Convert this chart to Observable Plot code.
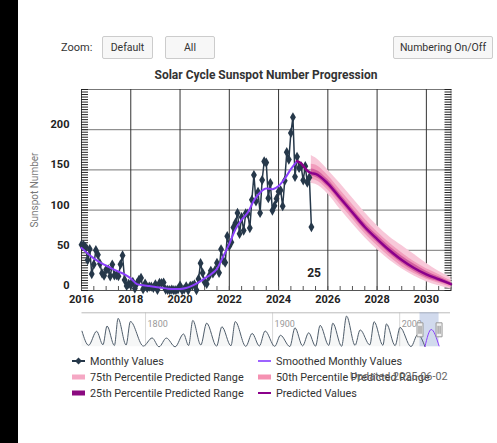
<!DOCTYPE html>
<html><head><meta charset="utf-8">
<script src="https://cdn.jsdelivr.net/npm/d3@7"></script>
<script src="https://cdn.jsdelivr.net/npm/@observablehq/plot@0.6"></script>
<style>
html,body{margin:0;padding:0;background:#000;width:497px;height:443px;overflow:hidden;font-family:Roboto,sans-serif;}
#panel{position:absolute;left:18px;top:0;width:479px;height:443px;background:#fff;}
.abs{position:absolute;}
.btn{position:absolute;box-sizing:border-box;height:23px;border:1px solid #cccccc;background:#f7f7f7;border-radius:2px;font-size:10.5px;color:#333;display:flex;align-items:center;justify-content:center;}
.lg{position:absolute;font-size:10.8px;color:#333;display:flex;align-items:center;height:14px;white-space:nowrap;}
.lg svg{margin-right:4px;}
</style></head><body>
<div id="panel"></div>
<div class="abs" style="left:61px;top:41px;font-size:11px;color:#333;">Zoom:</div>
<div class="btn" style="left:102px;top:36px;width:51px;">Default</div>
<div class="btn" style="left:165px;top:36px;width:50px;">All</div>
<div class="btn" style="left:393px;top:36px;width:100px;">Numbering On/Off</div>
<div class="abs" style="left:0;top:68px;width:532px;text-align:center;font-size:12px;font-weight:bold;color:#333;">Solar Cycle Sunspot Number Progression</div>
<div id="main" class="abs" style="left:0;top:80px;"></div>
<div id="nav" class="abs" style="left:0;top:305px;"></div>
<div id="legend"></div>
<div class="abs" style="left:350px;top:370px;font-size:10.8px;color:#666;">Updated 2025-06-02</div>
<script>
// ---------- data ----------
const monthlyStartYear = 2016;
const monthlyValues = [
 57.0,56.4,54.1,37.9,51.5,20.5,32.4,50.2,44.6,33.4,21.4,18.5,
 26.1,26.4,17.7,32.3,18.9,19.2,17.8,32.6,43.6,13.2,5.7,8.2,
 6.8,10.7,2.5,8.9,13.1,15.6,1.6,8.7,3.3,4.9,4.9,3.1,
 7.7,0.8,9.4,9.1,9.9,1.2,0.9,0.5,1.1,0.4,0.5,1.5,
 6.2,0.2,1.5,5.2,0.2,5.8,6.1,7.5,0.6,14.4,34.0,21.8,
 10.4,8.2,17.2,24.5,21.2,25.0,34.3,22.0,51.3,37.4,34.8,67.5,
 55.3,59.9,78.5,84.1,96.5,70.5,91.4,74.6,96.0,95.5,77.6,112.8,
 143.6,110.9,122.6,96.4,137.4,160.5,159.1,114.8,133.6,99.4,105.4,114.2,
 123.0,124.7,104.9,136.5,172.0,162.8,196.0,215.5,141.4,166.3,152.5,154.5,
 137.0,154.6,134.2,140.6,78.9
];
const smoothTimes = [2016,2016.25,2016.5,2016.75,2017,2017.25,2017.5,2017.75,2018,2018.25,2018.5,2018.75,2019,2019.25,2019.5,2019.75,2020,2020.25,2020.5,2020.75,2021,2021.25,2021.5,2021.75,2022,2022.25,2022.5,2022.75,2023,2023.25,2023.5,2023.75,2024,2024.25,2024.5,2024.75];
const smoothValues = [53,46,40,35,31,27,23.5,20,15,8,6.5,5.5,4.3,3.3,2.3,1.8,1.9,3,6,10,15,20,27,42,58,76,88,97,112,122,127,126,130,139,151,161];
const predTimes = [2024.75,2024.92,2025,2025.17,2025.33,2025.5,2026,2026.5,2027,2027.5,2028,2028.5,2029,2029.5,2030,2030.5,2031];
const predValues = [161,158,155,149,146,145,133,115,97,79,64,50,38,28,20,14,8];
const bandTimes = [2025.33,2025.5,2026,2026.5,2027,2027.5,2028,2028.5,2029,2029.5,2030,2030.5,2031];
const band75Low  = [133,132,120,101,83,66,51,38,27,18,11,6,2];
const band75High = [168,165,150,133,115,97,81,67,56,45,34,24,16];
const band50Low  = [138,137,125,107,89,71,56,42,30,21,14,9,4];
const band50High = [157,156,143,125,107,89,73,59,47,36,27,20,12];
const band25Low  = [142,141,129,111,93,75,60,46,34,24,16,11,6];
const band25High = [151,150,138,120,102,84,69,55,43,33,24,17,10];
const cycleLabels = [{t: 2025.44, v: 21, label: "25"}];
const xLabelYears = [2016,2018,2020,2022,2024,2026,2028,2030];
const yTickValues = [0,50,100,150,200];
// navigator: smoothed cycle extrema
const navTimes = [1750,1755.2,1761.5,1766.5,1769.7,1775.5,1778.4,1784.7,1788.1,1798.3,1805.2,1810.6,1816.4,1823.3,1829.9,1833.9,1837.2,1843.5,1848.1,1855.9,1860.1,1867.2,1870.6,1878.9,1883.9,1889.6,1894.1,1901.7,1906.2,1913.6,1917.6,1923.6,1928.4,1933.8,1937.4,1944.2,1947.4,1954.3,1958.2,1964.9,1968.9,1976.5,1979.9,1986.8,1989.6,1996.4,2000.3,2008.9,2014.3,2019.9];
const navValues = [145,14,144,19,193,12,264,17,235,7,82,0,81,0.2,119,12,245,17,220,6,186,10,234,4,124,8,147,4.5,107,2.5,176,9,130,6,199,13,219,5,285,14,157,18,233,14,213,11,180,2,116,2];
const navRecentTimes = [2019.9,2024.8,2031];
const navRecentValues = [2,161,8];
const navCenturies = [1800,1900,2000];
const navRange = [2016,2031];

// ---------- derived rows ----------
const monthly = monthlyValues.map((v,i)=>({t: monthlyStartYear + i/12, v}));
const smooth = smoothTimes.map((t,i)=>({t, v: smoothValues[i]}));
const pred = predTimes.map((t,i)=>({t, v: predValues[i]}));
const bands = bandTimes.map((t,i)=>({t, lo75: band75Low[i], hi75: band75High[i], lo50: band50Low[i], hi50: band50High[i], lo25: band25Low[i], hi25: band25High[i]}));
const nav = navTimes.map((t,i)=>({t, v: navValues[i]}));
const navRecent = navRecentTimes.map((t,i)=>({t, v: navRecentValues[i]}));
const minorY = d3.range(0, 250.1, 3.125);
const minorX = d3.range(2016, 2031.01, 0.5);

const C_MONTH = "#26384a", C_SMOOTH = "#8b3ffb", C_PRED = "#8b008b";

const main = Plot.plot({
  width: 497, height: 230,
  marginLeft: 81, marginRight: 46.5, marginTop: 9, marginBottom: 20,
  style: {fontFamily: "Roboto, sans-serif", fontSize: "11px", background: "transparent", overflow: "visible", color: "#222"},
  x: {domain: [2016, 2031]},
  y: {domain: [0, 250]},
  marks: [
    Plot.gridY([50,100,150,200,250], {stroke: "#777", strokeOpacity: 1}),
    Plot.gridX(xLabelYears.slice(1), {stroke: "#333", strokeOpacity: 1}),
    Plot.ruleX([2016], {stroke: "#444"}),
    Plot.ruleX([2031], {stroke: "#999"}),
    Plot.ruleY([0], {stroke: "#555"}),
    Plot.axisY(minorY, {anchor: "left", tickSize: -7, fill: "none", label: null, stroke: "#222"}),
    Plot.axisY(minorY, {anchor: "right", tickSize: -7, fill: "none", label: null, stroke: "#222"}),
    Plot.axisX(minorX, {anchor: "bottom", tickSize: -4, fill: "none", label: null, stroke: "#555"}),
    Plot.axisX(xLabelYears, {anchor: "bottom", tickSize: 0, tickPadding: 5, fontWeight: "bold", fontSize: 11, label: null, tickFormat: d => String(d), fill: "#222"}),
    Plot.axisY(yTickValues, {anchor: "left", tickSize: 0, tickPadding: 12, dy: -5, fontWeight: "bold", fontSize: 11, label: null, fill: "#222"}),
    Plot.axisY({ticks: [], anchor: "left", tickSize: 0, label: "Sunspot Number", labelAnchor: "center", labelOffset: 51, labelArrow: "none", fill: "#777", fontSize: 10}),
    Plot.areaY(bands, {x: "t", y1: "lo75", y2: "hi75", fill: "#f8c8d9", curve: "monotone-x"}),
    Plot.areaY(bands, {x: "t", y1: "lo50", y2: "hi50", fill: "#f19cbc", curve: "monotone-x"}),
    Plot.areaY(bands, {x: "t", y1: "lo25", y2: "hi25", fill: "#d4619f", curve: "monotone-x"}),
    Plot.line(monthly, {x: "t", y: "v", stroke: C_MONTH, strokeWidth: 1.5}),
    Plot.dot(monthly, {x: "t", y: "v", symbol: "diamond", r: 3.1, fill: C_MONTH}),
    Plot.line(smooth, {x: "t", y: "v", stroke: C_SMOOTH, strokeWidth: 2, curve: "monotone-x"}),
    Plot.line(pred, {x: "t", y: "v", stroke: C_PRED, strokeWidth: 2.5, curve: "monotone-x"}),
    Plot.text(cycleLabels, {x: "t", y: "v", text: "label", fontWeight: "bold", fontSize: 12, fill: "#222"})
  ]
});
document.getElementById("main").appendChild(main);

const handleBox = {draw(ctx){ ctx.moveTo(-3,-7); ctx.lineTo(3,-7); ctx.lineTo(3,7); ctx.lineTo(-3,7); ctx.closePath(); }};
const handleGrip = {draw(ctx){ ctx.moveTo(-1,-4); ctx.lineTo(-1,4); ctx.moveTo(1,-4); ctx.lineTo(1,4); }};

const navPlot = Plot.plot({
  width: 497, height: 45,
  marginLeft: 81.5, marginRight: 47, marginTop: 7.3, marginBottom: 3.7,
  style: {fontFamily: "Roboto, sans-serif", fontSize: "9px", background: "transparent", overflow: "visible"},
  x: {domain: [1750, 2040], axis: null},
  y: {domain: [0, 316], axis: null},
  marks: [
    Plot.gridX(navCenturies, {stroke: "#d8d8d8", strokeOpacity: 1}),
    Plot.ruleY([316], {stroke: "#bbb"}),
    Plot.areaY(nav, {x: "t", y: "v", fill: "#4f5d6b", fillOpacity: 0.05, curve: "monotone-x"}),
    Plot.rect([navRange], {x1: d => d[0], x2: d => d[1], y1: 0, y2: 316, fill: "rgb(102,133,194)", fillOpacity: 0.3}),
    Plot.text(navCenturies, {x: d => d, text: d => String(d), frameAnchor: "top", dy: 8, dx: 2, textAnchor: "start", fill: "#999", fontSize: 9}),
    Plot.line(nav, {x: "t", y: "v", stroke: "#4f5d6b", strokeWidth: 1, curve: "monotone-x"}),
    Plot.line(navRecent, {x: "t", y: "v", stroke: "#8b3ffb", strokeWidth: 1, curve: "monotone-x"}),
    Plot.dot(navRange, {x: d => d, symbol: handleBox, fill: "#f2f2f2", stroke: "#999", strokeWidth: 1}),
    Plot.dot(navRange, {x: d => d, symbol: handleGrip, fill: "none", stroke: "#666", strokeWidth: 0.8})
  ]
});
document.getElementById("nav").appendChild(navPlot);

// ---------- legend ----------
const legendNames = ["Monthly Values","Smoothed Monthly Values","75th Percentile Predicted Range","50th Percentile Predicted Range","25th Percentile Predicted Range","Predicted Values"];
const legendKinds = ["linedot","line","rect","rect","rect","line"];
const legendColors = [C_MONTH, "#9d63ff", "#f5a8c4", "#f591b2", "#8b0a80", C_PRED];
const legendCols = [72, 258];
const legendRows = [354, 370, 386];
const lg = document.getElementById("legend");
legendNames.forEach((name, i) => {
  const d = document.createElement("div");
  d.className = "lg";
  d.style.left = legendCols[i % 2] + "px";
  d.style.top = legendRows[Math.floor(i / 2)] + "px";
  const c = legendColors[i];
  let sym;
  if (legendKinds[i] === "rect") sym = `<svg width="14" height="10"><rect x="0" y="2.5" width="13" height="5" fill="${c}"/></svg>`;
  else if (legendKinds[i] === "line") sym = `<svg width="14" height="10"><line x1="0" x2="13" y1="5" y2="5" stroke="${c}" stroke-width="2"/></svg>`;
  else sym = `<svg width="14" height="10"><line x1="0" x2="13" y1="5" y2="5" stroke="${c}" stroke-width="2"/><path d="M6.5,1.5L10,5L6.5,8.5L3,5Z" fill="${c}"/></svg>`;
  d.innerHTML = sym + `<span>${name}</span>`;
  lg.appendChild(d);
});
</script>
</body></html>
